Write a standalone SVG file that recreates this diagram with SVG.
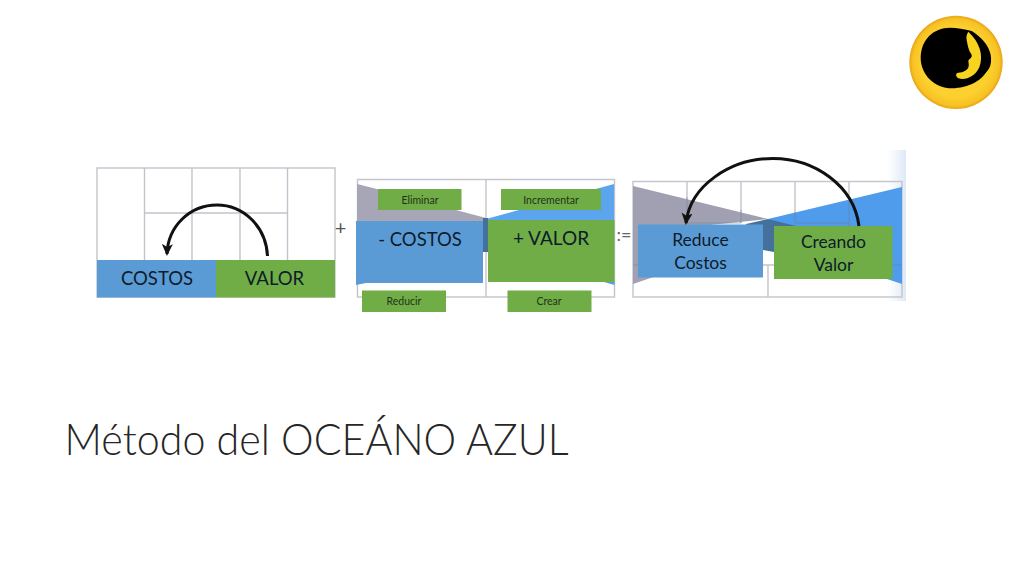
<svg xmlns="http://www.w3.org/2000/svg" width="1024" height="576" viewBox="0 0 1024 576">
<style>
text{font-family:Lato,"Open Sans",sans-serif;text-anchor:middle;fill:#0d1b2a}
.g{fill:none;stroke:#c3c3cb;stroke-width:1.4}
.d{fill:none;stroke:#6f7f96;stroke-width:1;stroke-opacity:.55}
.b{fill:#5b9bd5}.v{fill:#70ad47}
.s{font-size:10.500px;fill:#1f3318}
.m{font-size:18.500px}
.n{font-size:17.500px}
.a{fill:none;stroke:#111;stroke-width:3}
</style>
<defs>
<marker id="h" markerUnits="userSpaceOnUse" markerWidth="14" markerHeight="12" refX="10" refY="5.500" orient="auto"><path d="M0 0L12 5.500L0 11L3 5.500Z" fill="#111"/></marker>
<linearGradient id="f" x1="0" x2="1" y1="0" y2="0"><stop offset="0" stop-color="#dfe9f7" stop-opacity="0"/><stop offset="1" stop-color="#d5e2f4" stop-opacity=".8"/></linearGradient>
<radialGradient id="y"><stop offset=".75" stop-color="#fcd02e"/><stop offset=".93" stop-color="#f7c224"/><stop offset="1" stop-color="#e8a414"/></radialGradient>
</defs>
<rect width="1024" height="576" fill="#fff"/>

<g id="panel-1">
<rect class="g" x="97" y="168" width="238" height="129"/>
<path class="g" d="M144.500 168V260M192 168V260M240 168V260M287.500 168V260M144.500 213H287.500"/>
<rect class="b" x="97" y="260" width="119" height="37.500"/>
<rect class="v" x="216" y="260" width="119" height="37.500"/>
<text class="m" x="157" y="284.500">COSTOS</text>
<text class="m" x="274.500" y="284.500">VALOR</text>
</g>

<g id="plus"><text x="340.500" y="235" font-size="20" style="fill:#555">+</text></g>

<g id="panel-2">
<rect class="g" x="357.500" y="179.500" width="257" height="117.500"/>
<path class="g" d="M486 179.500V297"/>
<path d="M357 184L377 189L486 218L486 222H357Z" fill="#a6a6b6"/>
<path d="M614 184L486 219V222H614Z" fill="#5aa5ee"/>
<rect x="483" y="218" width="5" height="34" fill="#44709c"/>
<rect class="b" x="356" y="221" width="127" height="62"/>
<rect class="v" x="488" y="220" width="126.500" height="62"/>
<path d="M356 283L366 283L356 285Z M614.500 282H604L614.500 285Z" fill="#5b9bd5"/>
<text class="m" x="420" y="246">- COSTOS</text>
<text class="m" x="551" y="244.500" style="font-size:19px">+ VALOR</text>
</g>
<g id="eliminar"><rect class="v" x="378" y="189" width="83.500" height="21"/><text class="s" x="420" y="203.500">Eliminar</text></g>
<g id="incrementar"><rect class="v" x="501" y="189" width="100" height="21"/><text class="s" x="551" y="203.500">Incrementar</text></g>
<g id="reducir"><rect class="v" x="362" y="290.500" width="84" height="21.500"/><text class="s" x="404" y="305">Reducir</text></g>
<g id="crear"><rect class="v" x="507.500" y="290.500" width="84" height="21.500"/><text class="s" x="549" y="305">Crear</text></g>

<g id="equals"><text x="624" y="241" font-size="18" style="fill:#666">:=</text></g>

<g id="panel-3">
<rect x="887" y="150" width="19" height="151" fill="url(#f)"/>
<rect class="g" x="633" y="181.500" width="269" height="115.500"/>
<path class="g" d="M687 181.500V223M741 181.500V223M795 181.500V223M849 181.500V270M768 265V297M633 265H902"/>
<path d="M633 186L768 219L700 226L668 272L633 284Z" fill="#a0a0b2"/>
<path d="M902 187L768 219L800 240L860 270L902 284Z" fill="#4f9bec"/>
<path d="M746 224L768 219L796 226V250H774V252L763 250H744Z" fill="#44709c"/>
<path class="d" d="M687 197V223H741V210M795 212V223H849V200M849 223V270M633 265H638M892 265H902"/>
<rect class="b" x="638" y="224.500" width="125" height="53"/>
<rect class="v" x="774" y="226" width="118.500" height="53"/>
<text class="n" x="700.500" y="246">Reduce</text>
<text class="n" x="700.500" y="269">Costos</text>
<text class="n" x="833.500" y="247.500">Creando</text>
<text class="n" x="833.500" y="270.500">Valor</text>
</g>

<g id="connectors">
<path class="a" d="M267.500 256C266 226 243 205 217 205C190 205 168 226 167 254" marker-end="url(#h)"/>
<path class="a" d="M859 226C854 186 815 158.500 773 158.500C730 158.500 690 186 686 223" marker-end="url(#h)"/>
</g>

<g id="logo" transform="translate(900 5) scale(.3333)">
<circle cx="168" cy="172" r="140" fill="url(#y)"/>
<path d="M150 68C100 68 62 105 62 158C62 210 105 250 155 250C205 250 250 225 268 190C285 150 260 105 215 78C195 72 170 68 150 68Z" fill="#000"/>
<path d="M205 80C238 110 252 150 238 187C224 217 195 227 175 220C166 213 166 205 175 203C190 203 205 195 206 183C208 175 203 170 206 165C212 160 218 155 214 148C205 135 203 120 200 105C198 95 200 88 205 80Z" fill="#f8d31f"/>
<path d="M277 178C274 205 252 228 232 234C248 217 262 198 277 178Z" fill="#f8d31f"/>
</g>

<g id="title"><text x="316.500" y="455" font-size="44" font-weight="300" textLength="504" lengthAdjust="spacingAndGlyphs" style="fill:#262626">Método del OCEÁNO AZUL</text></g>
</svg>
